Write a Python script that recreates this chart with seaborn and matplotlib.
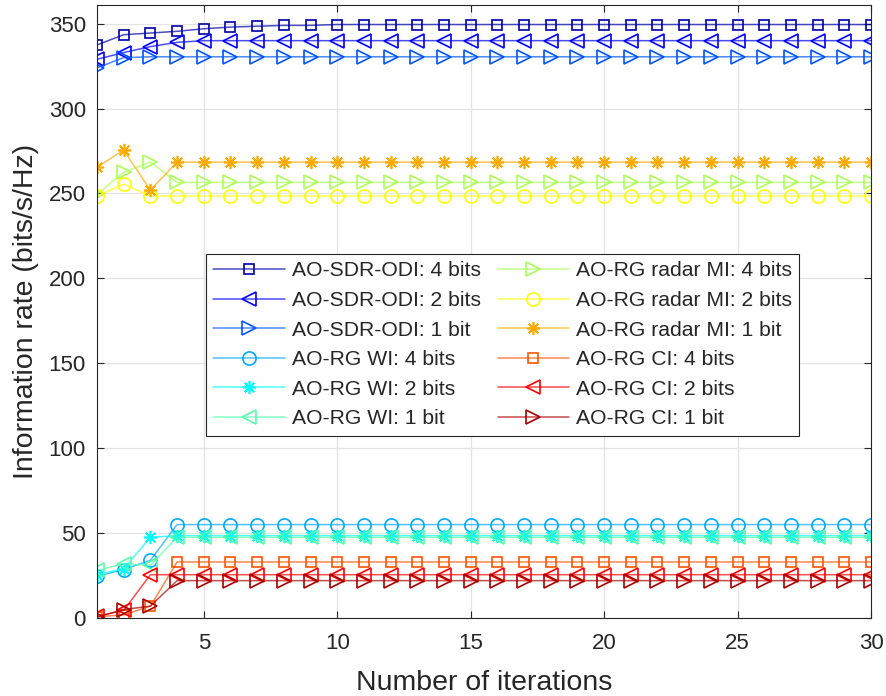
import matplotlib
matplotlib.use("Agg")
import matplotlib.pyplot as plt
import seaborn as sns
import pandas as pd
import numpy as np

iterations = list(range(1, 31))

sdr_4 = [337.5, 343.5, 344.5, 345.5, 347.0, 348.0, 348.5, 349.0, 349.0, 349.5,
         349.5, 349.5, 349.5, 349.5, 349.5, 349.5, 349.5, 349.5, 349.5, 349.5,
         349.5, 349.5, 349.5, 349.5, 349.5, 349.5, 349.5, 349.5, 349.5, 349.5]
sdr_2 = [329.0, 333.0, 336.5, 339.0, 340.0, 340.0, 340.0, 340.0, 340.0, 340.0,
         340.0, 340.0, 340.0, 340.0, 340.0, 340.0, 340.0, 340.0, 340.0, 340.0,
         340.0, 340.0, 340.0, 340.0, 340.0, 340.0, 340.0, 340.0, 340.0, 340.0]
sdr_1 = [324.0, 330.0, 330.5, 330.5, 330.5, 330.5, 330.5, 330.5, 330.5, 330.5,
         330.5, 330.5, 330.5, 330.5, 330.5, 330.5, 330.5, 330.5, 330.5, 330.5,
         330.5, 330.5, 330.5, 330.5, 330.5, 330.5, 330.5, 330.5, 330.5, 330.5]
wi_4 = [24.5, 28.5, 34.0, 55.0, 55.0, 55.0, 55.0, 55.0, 55.0, 55.0,
        55.0, 55.0, 55.0, 55.0, 55.0, 55.0, 55.0, 55.0, 55.0, 55.0,
        55.0, 55.0, 55.0, 55.0, 55.0, 55.0, 55.0, 55.0, 55.0, 55.0]
wi_2 = [25.5, 29.0, 47.5, 48.5, 48.5, 48.5, 48.5, 48.5, 48.5, 48.5,
        48.5, 48.5, 48.5, 48.5, 48.5, 48.5, 48.5, 48.5, 48.5, 48.5,
        48.5, 48.5, 48.5, 48.5, 48.5, 48.5, 48.5, 48.5, 48.5, 48.5]
wi_1 = [28.0, 32.0, 31.0, 47.5, 47.5, 47.5, 47.5, 47.5, 47.5, 47.5,
        47.5, 47.5, 47.5, 47.5, 47.5, 47.5, 47.5, 47.5, 47.5, 47.5,
        47.5, 47.5, 47.5, 47.5, 47.5, 47.5, 47.5, 47.5, 47.5, 47.5]
mi_4 = [249.5, 262.5, 268.5, 256.5, 256.5, 256.5, 256.5, 256.5, 256.5, 256.5,
        256.5, 256.5, 256.5, 256.5, 256.5, 256.5, 256.5, 256.5, 256.5, 256.5,
        256.5, 256.5, 256.5, 256.5, 256.5, 256.5, 256.5, 256.5, 256.5, 256.5]
mi_2 = [248.5, 255.5, 248.5, 248.5, 248.5, 248.5, 248.5, 248.5, 248.5, 248.5,
        248.5, 248.5, 248.5, 248.5, 248.5, 248.5, 248.5, 248.5, 248.5, 248.5,
        248.5, 248.5, 248.5, 248.5, 248.5, 248.5, 248.5, 248.5, 248.5, 248.5]
mi_1 = [265.5, 275.5, 252.0, 268.5, 268.5, 268.5, 268.5, 268.5, 268.5, 268.5,
        268.5, 268.5, 268.5, 268.5, 268.5, 268.5, 268.5, 268.5, 268.5, 268.5,
        268.5, 268.5, 268.5, 268.5, 268.5, 268.5, 268.5, 268.5, 268.5, 268.5]
ci_4 = [0.8, 1.8, 7.0, 33.0, 33.0, 33.0, 33.0, 33.0, 33.0, 33.0,
        33.0, 33.0, 33.0, 33.0, 33.0, 33.0, 33.0, 33.0, 33.0, 33.0,
        33.0, 33.0, 33.0, 33.0, 33.0, 33.0, 33.0, 33.0, 33.0, 33.0]
ci_2 = [1.0, 4.5, 25.5, 25.5, 25.5, 25.5, 25.5, 25.5, 25.5, 25.5,
        25.5, 25.5, 25.5, 25.5, 25.5, 25.5, 25.5, 25.5, 25.5, 25.5,
        25.5, 25.5, 25.5, 25.5, 25.5, 25.5, 25.5, 25.5, 25.5, 25.5]
ci_1 = [0.5, 5.0, 7.0, 22.0, 22.0, 22.0, 22.0, 22.0, 22.0, 22.0,
        22.0, 22.0, 22.0, 22.0, 22.0, 22.0, 22.0, 22.0, 22.0, 22.0,
        22.0, 22.0, 22.0, 22.0, 22.0, 22.0, 22.0, 22.0, 22.0, 22.0]

labels = ["AO-SDR-ODI: 4 bits", "AO-SDR-ODI: 2 bits", "AO-SDR-ODI: 1 bit",
          "AO-RG WI: 4 bits", "AO-RG WI: 2 bits", "AO-RG WI: 1 bit",
          "AO-RG radar MI: 4 bits", "AO-RG radar MI: 2 bits", "AO-RG radar MI: 1 bit",
          "AO-RG CI: 4 bits", "AO-RG CI: 2 bits", "AO-RG CI: 1 bit"]
series = [sdr_4, sdr_2, sdr_1, wi_4, wi_2, wi_1, mi_4, mi_2, mi_1, ci_4, ci_2, ci_1]

colors = [(0, 0, 0.6667), (0, 0, 1), (0, 0.3333, 1), (0, 0.6667, 1),
          (0, 1, 1), (0.3333, 1, 0.6667), (0.6667, 1, 0.3333), (1, 1, 0),
          (1, 0.6667, 0), (1, 0.3333, 0), (1, 0, 0), (0.6667, 0, 0)]
markers = ["s", "<", ">", "o", (8, 2, 0), "<", ">", "o", (8, 2, 0), "s", "<", ">"]
msizes = {"s": 7.5, "<": 10.5, ">": 10.5, "o": 9.5}

sns.set_theme(style="ticks")
plt.rcParams["font.family"] = ["Liberation Sans", "DejaVu Sans"]

fig = plt.figure(figsize=(8.86, 6.96), dpi=100)
ax = fig.add_axes([97 / 886, 1 - 618 / 696, (871 - 97) / 886, (618 - 5) / 696])

for lab, vals, col, mk in zip(labels, series, colors, markers):
    df = pd.DataFrame({"Iteration": iterations, "Rate": vals})
    ms = msizes.get(mk, 9.5) if isinstance(mk, str) else 9.5
    sns.lineplot(data=df, x="Iteration", y="Rate", ax=ax, errorbar=None,
                 marker=mk, markersize=ms, label=lab, linewidth=1.1)
    line = ax.lines[-1]
    line.set_color((*col, 0.7))
    line.set_markeredgecolor((*col, 1.0))
    line.set_markerfacecolor("none")
    line.set_markeredgewidth(1.2)

ax.set_xlim(1, 30)
ax.set_ylim(0, 361)
ax.set_xticks([5, 10, 15, 20, 25, 30])
ax.set_yticks([0, 50, 100, 150, 200, 250, 300, 350])
ax.grid(True, color="#e3e3e3", linewidth=0.9)
ax.set_axisbelow(True)
for sp in ax.spines.values():
    sp.set_color("#262626")
    sp.set_linewidth(0.8)
ax.tick_params(direction="in", length=5, width=0.8, color="#262626",
               labelsize=16, labelcolor="#262626", top=True, right=True)
ax.tick_params(axis="x", pad=11)
ax.tick_params(axis="y", pad=8)
ax.set_xlabel("Number of iterations", fontsize=20.5, color="#262626", labelpad=11)
ax.set_ylabel("Information rate (bits/s/Hz)", fontsize=20.5, color="#262626", labelpad=7)

leg = ax.legend(ncol=2, loc="upper left", bbox_to_anchor=(0.1408, 0.5938),
                fontsize=15.2, frameon=True, fancybox=False, framealpha=1,
                edgecolor="#262626", handlelength=3.37, handletextpad=0.34,
                labelspacing=0.5, columnspacing=0.8, borderpad=0.35,
                borderaxespad=0, numpoints=1)
leg.get_frame().set_linewidth(0.8)

fig.savefig("out.png", dpi=100)
